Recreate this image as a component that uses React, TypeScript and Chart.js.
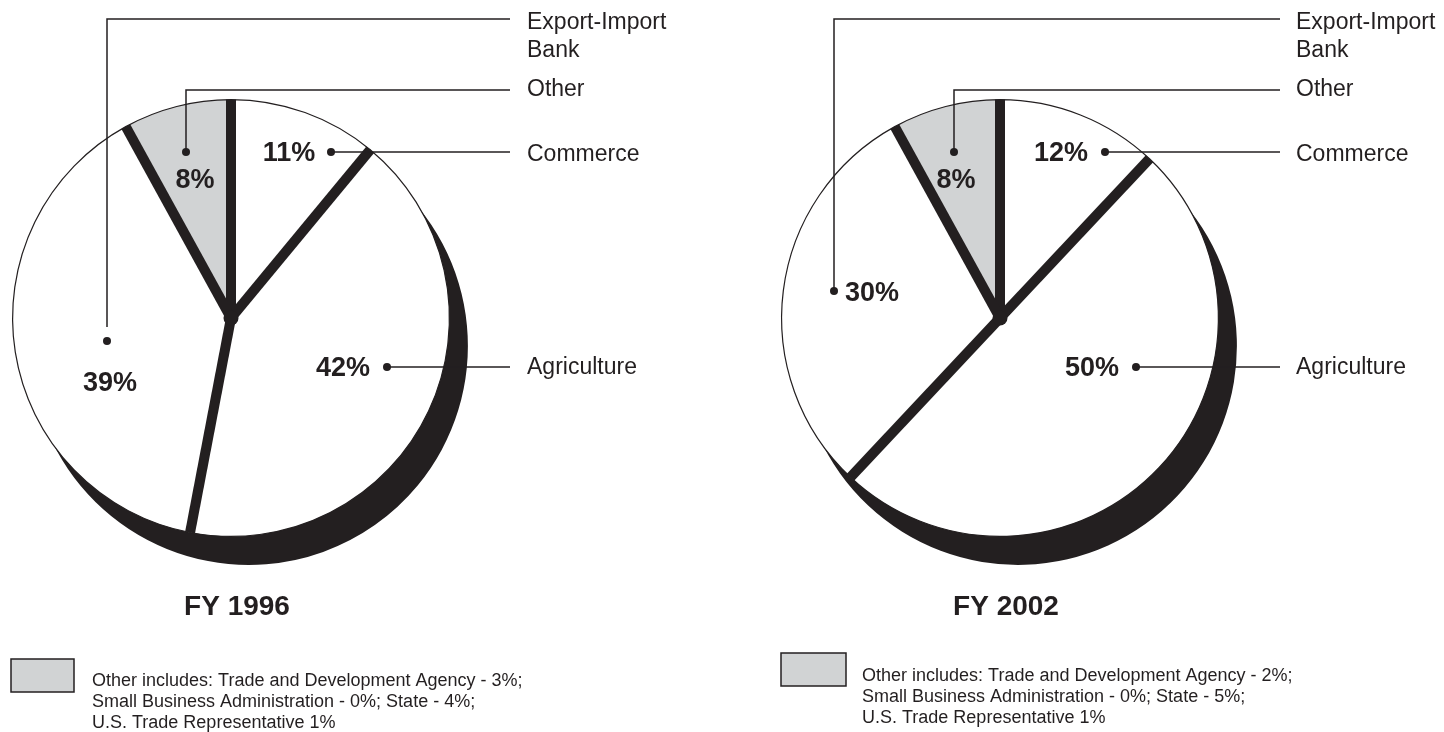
import React, { useEffect, useRef } from "react";
import { Chart, registerables } from "chart.js";

Chart.register(...registerables);

// ---------- DATA ----------
const categories = ["Commerce", "Agriculture", "Export-Import Bank", "Other"];
const categoryLabelLines = [["Commerce"], ["Agriculture"], ["Export-Import", "Bank"], ["Other"]];
const fy1996Values = [11, 42, 39, 8];
const fy2002Values = [12, 50, 30, 8];
const chartTitles = ["FY 1996", "FY 2002"];
const otherNote1996 = [
  "Other includes: Trade and Development Agency - 3%;",
  "Small Business Administration - 0%; State - 4%;",
  "U.S. Trade Representative 1%",
];
const otherNote2002 = [
  "Other includes: Trade and Development Agency - 2%;",
  "Small Business Administration - 0%; State - 5%;",
  "U.S. Trade Representative 1%",
];

// ---------- STYLE / LAYOUT ----------
const INK = "#231f20";
const GRAY = "#d1d3d4";
const sliceColors = ["#ffffff", "#ffffff", "#ffffff", GRAY];
const FONT = '"Liberation Sans", Arial, Helvetica, sans-serif';
const SHADOW_DX = 18;
const SHADOW_DY = 28;
const SEP_WIDTH = 10;
const CANVAS_W = 722;
const CANVAS_H = 732;

type PieLayout = {
  canvasLeft: number;
  padding: { left: number; right: number; top: number; bottom: number };
  pct: [number, number][];
  dot: [number, number][];
  elbowY: (number | null)[];
  dotGap: number[];
  lineEndX: number;
  labelX: number;
  labelY: number[];
  titleDX: number;
  titleY: number;
  legendBox: [number, number, number, number];
  legendTextX: number;
  legendTextY: number;
};

const layout1996: PieLayout = {
  canvasLeft: 0,
  padding: { left: 12, right: CANVAS_W - 12 - 438, top: 99, bottom: CANVAS_H - 99 - 438 },
  pct: [[58, -165], [112, 50], [-121, 65], [-36, -138]],
  dot: [[100, -166], [156, 49], [-124, 23], [-45, -166]],
  elbowY: [null, null, -299, -228],
  dotGap: [0, 0, 14, 0],
  lineEndX: 279,
  labelX: 296,
  labelY: [-163, 50, -295, -228],
  titleDX: 6,
  titleY: 607,
  legendBox: [-220, 659, 63, 33],
  legendTextX: -139,
  legendTextY: 681,
};

const layout2002: PieLayout = {
  canvasLeft: 722,
  padding: { left: 59, right: CANVAS_W - 59 - 438, top: 99, bottom: CANVAS_H - 99 - 438 },
  pct: [[61, -165], [92, 50], [-128, -25], [-44, -138]],
  dot: [[105, -166], [136, 49], [-166, -27], [-46, -166]],
  elbowY: [null, null, -299, -228],
  dotGap: [0, 0, 0, 0],
  lineEndX: 280,
  labelX: 296,
  labelY: [-163, 50, -295, -228],
  titleDX: 6,
  titleY: 607,
  legendBox: [-219, 653, 65, 33],
  legendTextX: -138,
  legendTextY: 676,
};

function makeDecorPlugin(values: number[], title: string, note: string[], lay: PieLayout) {
  return {
    id: "pieDecor",
    beforeDatasetsDraw(chart: any) {
      const meta = chart.getDatasetMeta(0);
      const ctx = chart.ctx as CanvasRenderingContext2D;
      ctx.save();
      ctx.fillStyle = INK;
      ctx.beginPath();
      meta.data.forEach((a: any) => {
        const cx = a.x + SHADOW_DX;
        const cy = a.y + SHADOW_DY;
        ctx.moveTo(cx, cy);
        ctx.arc(cx, cy, a.outerRadius + 0.5, a.startAngle, a.endAngle);
        ctx.lineTo(cx, cy);
      });
      ctx.fill();
      ctx.restore();
    },
    afterDatasetsDraw(chart: any) {
      const meta = chart.getDatasetMeta(0);
      const ctx = chart.ctx as CanvasRenderingContext2D;
      ctx.save();
      ctx.strokeStyle = INK;
      ctx.lineWidth = SEP_WIDTH;
      ctx.lineCap = "butt";
      meta.data.forEach((a: any) => {
        const r = a.outerRadius;
        ctx.beginPath();
        ctx.moveTo(a.x, a.y);
        ctx.lineTo(a.x + r * Math.cos(a.startAngle), a.y + r * Math.sin(a.startAngle));
        ctx.stroke();
      });
      ctx.fillStyle = INK;
      ctx.beginPath();
      ctx.arc(meta.data[0].x, meta.data[0].y, SEP_WIDTH * 0.75, 0, Math.PI * 2);
      ctx.fill();
      ctx.restore();
    },
    afterDraw(chart: any) {
      const meta = chart.getDatasetMeta(0);
      const ctx = chart.ctx as CanvasRenderingContext2D;
      const cx = meta.data[0].x;
      const cy = meta.data[0].y;
      ctx.save();
      ctx.fillStyle = INK;
      ctx.strokeStyle = INK;
      ctx.lineWidth = 1.5;
      values.forEach((v, i) => {
        ctx.font = `bold 27px ${FONT}`;
        ctx.textAlign = "center";
        ctx.textBaseline = "middle";
        ctx.fillText(`${v}%`, cx + lay.pct[i][0], cy + lay.pct[i][1] + 1);
        const dx = cx + lay.dot[i][0];
        const dy = cy + lay.dot[i][1];
        ctx.beginPath();
        ctx.arc(dx, dy, 4, 0, Math.PI * 2);
        ctx.fill();
        ctx.beginPath();
        const ey = lay.elbowY[i];
        if (ey === null) {
          ctx.moveTo(dx, dy);
          ctx.lineTo(cx + lay.lineEndX, dy);
        } else {
          ctx.moveTo(dx, dy - lay.dotGap[i]);
          ctx.lineTo(dx, cy + ey);
          ctx.lineTo(cx + lay.lineEndX, cy + ey);
        }
        ctx.stroke();
        ctx.font = `23px ${FONT}`;
        ctx.textAlign = "left";
        categoryLabelLines[i].forEach((t, k) => {
          ctx.fillText(t, cx + lay.labelX, cy + lay.labelY[i] + k * 28);
        });
      });
      ctx.font = `bold 28px ${FONT}`;
      ctx.textAlign = "center";
      ctx.textBaseline = "middle";
      ctx.fillText(title, cx + lay.titleDX, lay.titleY);
      const [bx, by, bw, bh] = lay.legendBox;
      ctx.fillStyle = GRAY;
      ctx.fillRect(cx + bx, by, bw, bh);
      ctx.lineWidth = 1.5;
      ctx.strokeRect(cx + bx, by, bw, bh);
      ctx.fillStyle = INK;
      ctx.font = `18px ${FONT}`;
      ctx.textAlign = "left";
      note.forEach((t, k) => {
        ctx.fillText(t, cx + lay.legendTextX, lay.legendTextY + k * 21);
      });
      ctx.restore();
    },
  };
}

function PieCanvas(props: { values: number[]; title: string; note: string[]; lay: PieLayout }) {
  const ref = useRef<HTMLCanvasElement | null>(null);
  useEffect(() => {
    if (!ref.current) return;
    const { values, title, note, lay } = props;
    const chart = new Chart(ref.current, {
      type: "pie",
      data: {
        labels: categories,
        datasets: [
          {
            data: values,
            backgroundColor: sliceColors,
            borderColor: INK,
            borderWidth: 1.2,
          },
        ],
      },
      options: {
        responsive: false,
        maintainAspectRatio: false,
        devicePixelRatio: 1,
        animation: false,
        layout: { padding: lay.padding },
        plugins: {
          legend: { display: false },
          tooltip: { enabled: false },
          title: { display: false },
        },
        events: [],
      },
      plugins: [makeDecorPlugin(values, title, note, lay)],
    } as any);
    return () => chart.destroy();
  }, []);
  return (
    <canvas
      ref={ref}
      width={CANVAS_W}
      height={CANVAS_H}
      style={{ position: "absolute", left: props.lay.canvasLeft, top: 0, width: CANVAS_W, height: CANVAS_H }}
    />
  );
}

export default function App() {
  return (
    <div style={{ position: "fixed", left: 0, top: 0, width: 1444, height: 732, background: "#ffffff" }}>
      <PieCanvas values={fy1996Values} title={chartTitles[0]} note={otherNote1996} lay={layout1996} />
      <PieCanvas values={fy2002Values} title={chartTitles[1]} note={otherNote2002} lay={layout2002} />
    </div>
  );
}
